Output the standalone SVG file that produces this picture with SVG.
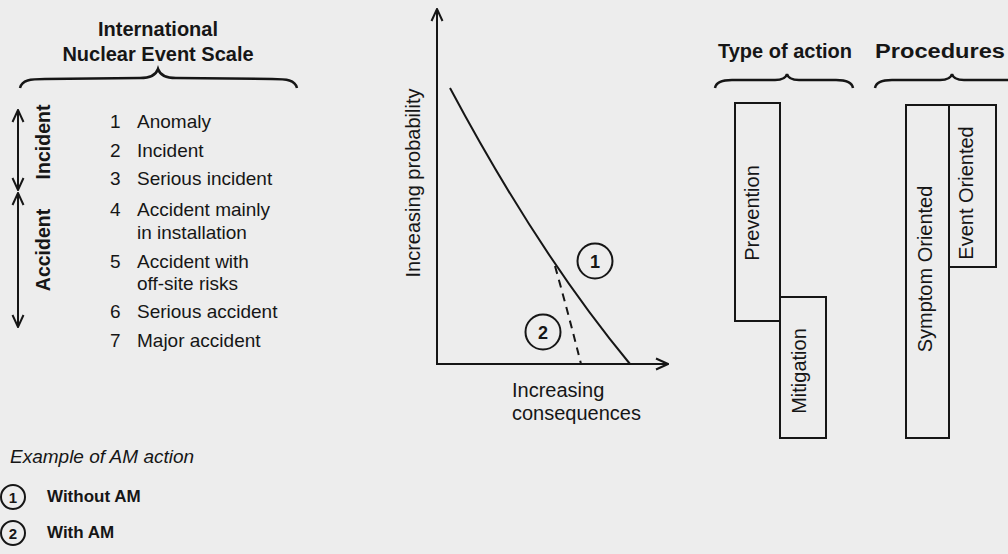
<svg xmlns="http://www.w3.org/2000/svg" width="1008" height="554" viewBox="0 0 1008 554">
<defs>
<marker id="vh" markerUnits="userSpaceOnUse" markerWidth="14" markerHeight="14" viewBox="0 0 14 14" refX="13" refY="7" orient="auto">
<path d="M1,1.5 L13,7 L1,12.5" fill="none" stroke="#161616" stroke-width="2"/>
</marker>
<style>
.t{font-family:"Liberation Sans",Arial,sans-serif;fill:#161616}
.b{font-weight:bold}
.r{font-size:19px}
.g{font-size:20px}
.ln{stroke:#161616;stroke-width:2;fill:none}
.br{stroke:#161616;stroke-width:2.5;fill:none}
.box{stroke:#161616;stroke-width:2;fill:none}
</style>
</defs>
<rect x="0" y="0" width="1008" height="554" fill="#ededed"/>

<g id="ines-title">
<text class="t b" x="158" y="36" font-size="20" text-anchor="middle">International</text>
<text class="t b" x="158" y="61" font-size="20" text-anchor="middle">Nuclear Event Scale</text>
<path class="br" d="M20,88 C22,80 30,79 45,79 L140,78 C150,78 156,75 158,69 C160,75 166,78 176,78 L272,79 C287,79 295,80 297,88"/>
</g>

<g id="incident-range">
<line class="ln" x1="18" y1="188" x2="18" y2="110" marker-end="url(#vh)"/>
<line class="ln" x1="18" y1="112" x2="18" y2="190" marker-end="url(#vh)"/>
<text class="t b" font-size="19.5" text-anchor="middle" transform="translate(50,142) rotate(-90)">Incident</text>
</g>
<g id="accident-range">
<line class="ln" x1="18" y1="326" x2="18" y2="193" marker-end="url(#vh)"/>
<line class="ln" x1="18" y1="195" x2="18" y2="327" marker-end="url(#vh)"/>
<text class="t b" font-size="19.5" text-anchor="middle" transform="translate(50,250) rotate(-90)">Accident</text>
</g>

<g id="ines-levels">
<text class="t r" x="110" y="128">1</text><text class="t r" x="137" y="128">Anomaly</text>
<text class="t r" x="110" y="157">2</text><text class="t r" x="137" y="157">Incident</text>
<text class="t r" x="110" y="185">3</text><text class="t r" x="137" y="185">Serious incident</text>
<text class="t r" x="110" y="216">4</text><text class="t r" x="137" y="216">Accident mainly</text>
<text class="t r" x="137" y="239">in installation</text>
<text class="t r" x="110" y="268">5</text><text class="t r" x="137" y="268">Accident with</text>
<text class="t r" x="137" y="290">off-site risks</text>
<text class="t r" x="110" y="318">6</text><text class="t r" x="137" y="318">Serious accident</text>
<text class="t r" x="110" y="347">7</text><text class="t r" x="137" y="347">Major accident</text>
</g>

<g id="legend">
<text class="t" x="10" y="463" font-size="19" font-style="italic">Example of AM action</text>
<circle class="ln" cx="13" cy="497" r="12"/>
<text class="t b" x="13" y="502.5" font-size="15" text-anchor="middle">1</text>
<text class="t b" x="47" y="502" font-size="17">Without AM</text>
<circle class="ln" cx="13" cy="533" r="12"/>
<text class="t b" x="13" y="538.5" font-size="15" text-anchor="middle">2</text>
<text class="t b" x="47" y="538" font-size="17">With AM</text>
</g>

<g id="graph-axes">
<line class="ln" x1="437" y1="364" x2="437" y2="9" marker-end="url(#vh)"/>
<line class="ln" x1="436" y1="364" x2="668" y2="364" marker-end="url(#vh)"/>
<text class="t g" text-anchor="middle" transform="translate(420,183) rotate(-90)">Increasing probability</text>
<text class="t g" x="512" y="397">Increasing</text>
<text class="t g" x="512" y="420">consequences</text>
</g>

<g id="connectors">
<path class="ln" d="M450,88 Q538,253 630,364"/>
<path class="ln" d="M555,266 Q569,316 581,364" stroke-dasharray="8 6"/>
</g>

<g id="curve-1">
<circle class="ln" cx="595" cy="261" r="17.5"/>
<text class="t b" x="595" y="267.5" font-size="18" text-anchor="middle">1</text>
</g>
<g id="curve-2">
<circle class="ln" cx="543" cy="332" r="17.5"/>
<text class="t b" x="543" y="338.5" font-size="18" text-anchor="middle">2</text>
</g>

<g id="type-of-action">
<text class="t b" x="785" y="58" font-size="20" text-anchor="middle">Type of action</text>
<path class="br" d="M715,88 C716,82 722,80 732,80 L775,80 C782,80 786,78 787,74 C788,78 792,80 799,80 L836,80 C846,80 852,82 853,88"/>
</g>
<g id="prevention">
<rect class="box" x="735" y="103" width="45" height="218"/>
<text class="t g" text-anchor="middle" transform="translate(759,213) rotate(-90)">Prevention</text>
</g>
<g id="mitigation">
<rect class="box" x="780" y="297" width="46" height="141"/>
<text class="t g" text-anchor="middle" transform="translate(806,371) rotate(-90)">Mitigation</text>
</g>

<g id="procedures">
<text class="t b" x="875" y="58" font-size="20" textLength="130" lengthAdjust="spacingAndGlyphs">Procedures</text>
<path class="br" d="M875,88 C876,82 882,80 892,80 L940,80 C947,80 951,78 952,74 C953,78 957,80 964,80 L1012,80 C1022,80 1028,82 1029,88"/>
</g>
<g id="symptom-oriented">
<rect class="box" x="906" y="105" width="43" height="333"/>
<text class="t g" text-anchor="middle" transform="translate(932,269) rotate(-90)">Symptom Oriented</text>
</g>
<g id="event-oriented">
<rect class="box" x="949" y="105" width="47" height="162"/>
<text class="t g" text-anchor="middle" transform="translate(973,193) rotate(-90)">Event Oriented</text>
</g>
</svg>
